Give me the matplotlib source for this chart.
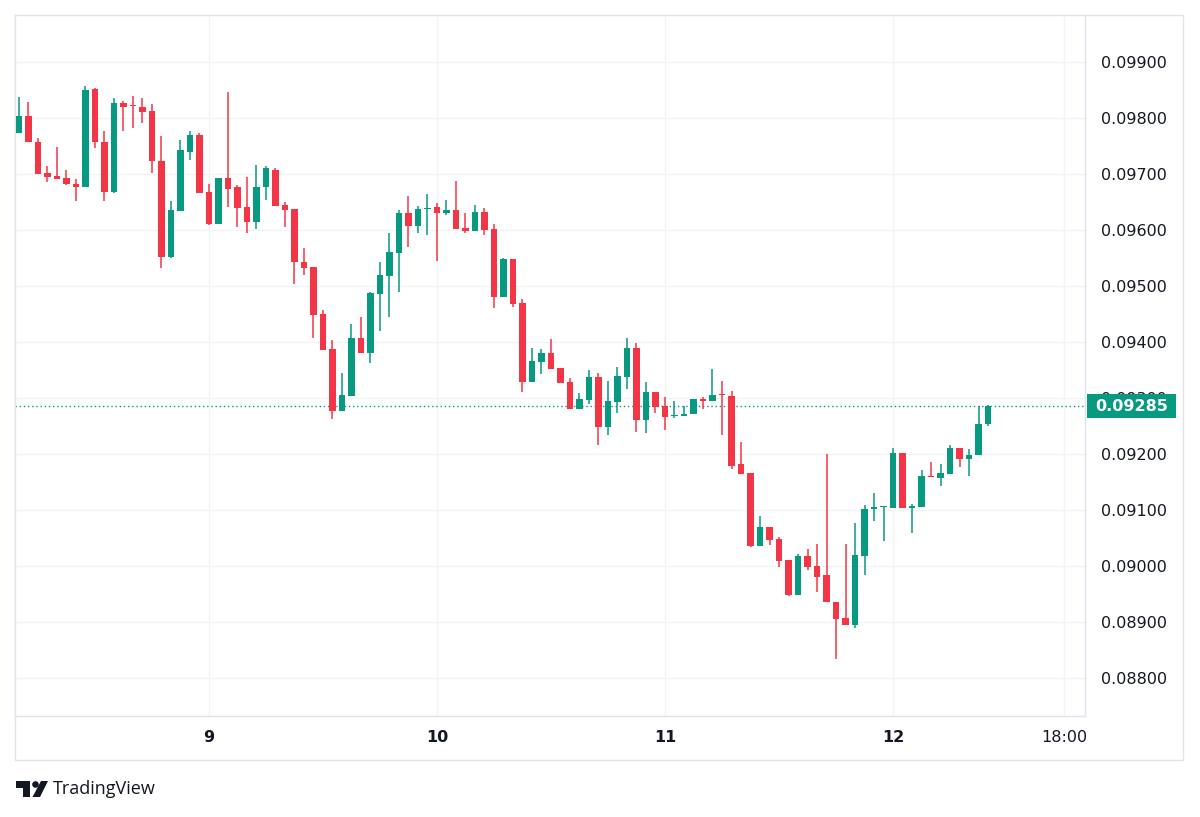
import matplotlib
matplotlib.use("Agg")
import matplotlib.pyplot as plt
import matplotlib.transforms as mtransforms
from matplotlib.patches import Rectangle, Polygon, Circle
import numpy as np

# Hourly candles, 8th 04:00 -> 12th 10:00
opens = [0.09774, 0.09804, 0.09758, 0.09701, 0.09696, 0.09693, 0.09683, 0.09677, 0.09851, 0.09758,
         0.09668, 0.09826, 0.09822, 0.09819, 0.09813, 0.09724, 0.09551, 0.09634, 0.09740, 0.09770,
         0.09667, 0.09611, 0.09692, 0.09677, 0.09641, 0.09614, 0.09676, 0.09708, 0.09645, 0.09638,
         0.09543, 0.09534, 0.09450, 0.09387, 0.09277, 0.09304, 0.09407, 0.09380, 0.09485, 0.09518,
         0.09559, 0.09631, 0.09608, 0.09638, 0.09641, 0.09630, 0.09636, 0.09604, 0.09598, 0.09633,
         0.09601, 0.09480, 0.09548, 0.09470, 0.09329, 0.09365, 0.09380, 0.09353, 0.09328, 0.09280,
         0.09296, 0.09337, 0.09249, 0.09293, 0.09338, 0.09389, 0.09260, 0.09310, 0.09286, 0.09267,
         0.09268, 0.09271, 0.09298, 0.09295, 0.09307, 0.09304, 0.09182, 0.09166, 0.09036, 0.09070,
         0.09048, 0.09010, 0.08948, 0.09018, 0.09000, 0.08984, 0.08936, 0.08907, 0.08895, 0.09018,
         0.09101, 0.09105, 0.09104, 0.09201, 0.09103, 0.09105, 0.09161, 0.09157, 0.09164, 0.09211,
         0.09191, 0.09198, 0.09254]
highs = [0.09838, 0.09829, 0.09764, 0.09715, 0.09749, 0.09708, 0.09691, 0.09857, 0.09854, 0.09776,
         0.09835, 0.09831, 0.09839, 0.09835, 0.09825, 0.09767, 0.09652, 0.09761, 0.09776, 0.09773,
         0.09683, 0.09692, 0.09846, 0.09680, 0.09694, 0.09716, 0.09714, 0.09710, 0.09650, 0.09638,
         0.09568, 0.09534, 0.09457, 0.09404, 0.09344, 0.09432, 0.09444, 0.09489, 0.09542, 0.09594,
         0.09636, 0.09661, 0.09643, 0.09664, 0.09648, 0.09654, 0.09688, 0.09630, 0.09645, 0.09639,
         0.09611, 0.09550, 0.09548, 0.09476, 0.09389, 0.09387, 0.09405, 0.09353, 0.09335, 0.09309,
         0.09350, 0.09344, 0.09330, 0.09356, 0.09408, 0.09399, 0.09329, 0.09310, 0.09301, 0.09295,
         0.09286, 0.09298, 0.09302, 0.09351, 0.09330, 0.09313, 0.09222, 0.09166, 0.09089, 0.09070,
         0.09051, 0.09010, 0.09021, 0.09030, 0.09039, 0.09200, 0.08936, 0.09039, 0.09077, 0.09108,
         0.09130, 0.09107, 0.09210, 0.09201, 0.09110, 0.09171, 0.09186, 0.09182, 0.09216, 0.09211,
         0.09208, 0.09286, 0.09288]
lows = [0.09774, 0.09757, 0.09700, 0.09686, 0.09691, 0.09680, 0.09651, 0.09677, 0.09747, 0.09652,
        0.09666, 0.09777, 0.09782, 0.09791, 0.09702, 0.09533, 0.09550, 0.09634, 0.09725, 0.09666,
        0.09609, 0.09611, 0.09641, 0.09606, 0.09594, 0.09602, 0.09654, 0.09643, 0.09606, 0.09504,
        0.09520, 0.09408, 0.09386, 0.09262, 0.09277, 0.09304, 0.09380, 0.09363, 0.09420, 0.09445,
        0.09490, 0.09569, 0.09595, 0.09591, 0.09545, 0.09626, 0.09602, 0.09594, 0.09598, 0.09591,
        0.09460, 0.09480, 0.09462, 0.09311, 0.09329, 0.09343, 0.09352, 0.09327, 0.09280, 0.09280,
        0.09290, 0.09216, 0.09234, 0.09274, 0.09316, 0.09240, 0.09237, 0.09274, 0.09243, 0.09264,
        0.09268, 0.09271, 0.09280, 0.09295, 0.09234, 0.09174, 0.09164, 0.09033, 0.09036, 0.09038,
        0.08998, 0.08947, 0.08948, 0.08993, 0.08954, 0.08935, 0.08833, 0.08895, 0.08889, 0.08984,
        0.09080, 0.09045, 0.09104, 0.09103, 0.09058, 0.09105, 0.09158, 0.09142, 0.09164, 0.09177,
        0.09161, 0.09198, 0.09250]
closes = [0.09804, 0.09757, 0.09700, 0.09695, 0.09691, 0.09682, 0.09677, 0.09850, 0.09757, 0.09668,
          0.09826, 0.09820, 0.09821, 0.09811, 0.09723, 0.09551, 0.09636, 0.09742, 0.09770, 0.09666,
          0.09611, 0.09692, 0.09674, 0.09639, 0.09614, 0.09676, 0.09710, 0.09643, 0.09636, 0.09542,
          0.09532, 0.09449, 0.09386, 0.09277, 0.09305, 0.09407, 0.09380, 0.09487, 0.09520, 0.09561,
          0.09631, 0.09607, 0.09638, 0.09640, 0.09630, 0.09636, 0.09602, 0.09598, 0.09633, 0.09600,
          0.09480, 0.09548, 0.09468, 0.09329, 0.09366, 0.09380, 0.09352, 0.09327, 0.09280, 0.09298,
          0.09337, 0.09249, 0.09295, 0.09339, 0.09389, 0.09260, 0.09310, 0.09283, 0.09266, 0.09270,
          0.09271, 0.09298, 0.09295, 0.09305, 0.09305, 0.09179, 0.09164, 0.09036, 0.09070, 0.09046,
          0.09008, 0.08948, 0.09018, 0.08999, 0.08981, 0.08935, 0.08905, 0.08895, 0.09020, 0.09102,
          0.09106, 0.09106, 0.09201, 0.09103, 0.09107, 0.09161, 0.09158, 0.09166, 0.09210, 0.09191,
          0.09199, 0.09254, 0.09285]

first_hour = 4  # hours after the 8th 00:00
tick_hours = [24, 48, 72, 96, 114]
tick_labels = ["9", "10", "11", "12", "18:00"]
price_ticks = [0.088, 0.089, 0.090, 0.091, 0.092, 0.093, 0.094, 0.095, 0.096, 0.097, 0.098, 0.099]

UP = "#089981"
DOWN = "#f23645"
GRID = "#f2f3f5"
BORDER = "#e0e3eb"
TEXT = "#131722"
W, H = 1200, 817

o = np.array(opens)
h = np.array(highs)
l = np.array(lows)
c = np.array(closes)
x = np.arange(first_hour, first_hour + len(c))
colors = np.where(c >= o, UP, DOWN)

fig = plt.figure(figsize=(W / 100, H / 100), dpi=100)
ax = fig.add_axes([15 / W, 1 - 716 / H, 1070 / W, 701 / H])

ax.vlines(x, l, h, colors=colors, linewidth=1.1, zorder=2)
body = np.maximum(np.abs(c - o), 0.000018)
ax.bar(x, body, bottom=np.minimum(o, c), width=0.72, color=colors, linewidth=0, zorder=3)

ax.set_xlim(3.58, 116.21)
ax.set_ylim(0.087321, 0.099839)

ax.set_yticks(price_ticks)
ax.set_yticklabels([f"{p:.5f}" for p in price_ticks])
ax.yaxis.tick_right()
ax.tick_params(axis="y", length=0, pad=11.5, labelsize=11.5, labelcolor=TEXT)

ax.set_xticks(tick_hours)
ax.set_xticklabels(tick_labels)
ax.tick_params(axis="x", length=0, pad=10, labelsize=11.5, labelcolor=TEXT)
for lab in ax.get_xticklabels():
    if lab.get_text() != "18:00":
        lab.set_fontweight("bold")

ax.grid(True, color=GRID, linewidth=1, zorder=0)
ax.set_axisbelow(True)
for side in ["top", "left", "right", "bottom"]:
    ax.spines[side].set_color(BORDER)
    ax.spines[side].set_linewidth(1)

# last price line and label
last = c[-1]
ax.axhline(last, color=UP, linestyle=(0, (1, 2)), linewidth=1, zorder=1)
trans = mtransforms.blended_transform_factory(ax.transAxes, ax.transData)
box_h = 24 / 56000
ax.add_patch(Rectangle((1072 / 1070, last - box_h / 2), 89 / 1070, box_h,
                       transform=trans, facecolor=UP, edgecolor="none",
                       clip_on=False, zorder=5))
ax.text(1072 / 1070 + 89 / 2140, last, f"{last:.5f}", transform=trans, ha="center",
        va="center", color="white", fontsize=11.5, fontweight="bold", zorder=6, clip_on=False)

# outer frame and logo, drawn in pixel coordinates
over = fig.add_axes([0, 0, 1, 1], zorder=-1)
over.set_xlim(0, W)
over.set_ylim(H, 0)
over.axis("off")
over.add_patch(Rectangle((15, 15), 1168, 745, fill=False, edgecolor=BORDER, linewidth=1))

over.add_patch(Polygon([(16, 781), (30, 781), (30, 797), (23, 797), (23, 788), (16, 788)],
                       closed=True, facecolor=TEXT, edgecolor="none"))
over.add_patch(Circle((35.5, 784.5), 3.3, facecolor=TEXT, edgecolor="none"))
over.add_patch(Polygon([(41, 781), (48, 781), (40, 797), (32.5, 797)],
                       closed=True, facecolor=TEXT, edgecolor="none"))
over.text(53, 789, "TradingView", fontsize=13, color=TEXT, ha="left", va="center",
          family=["Open Sans", "DejaVu Sans"])

fig.savefig("out.png", dpi=100, facecolor="white")
